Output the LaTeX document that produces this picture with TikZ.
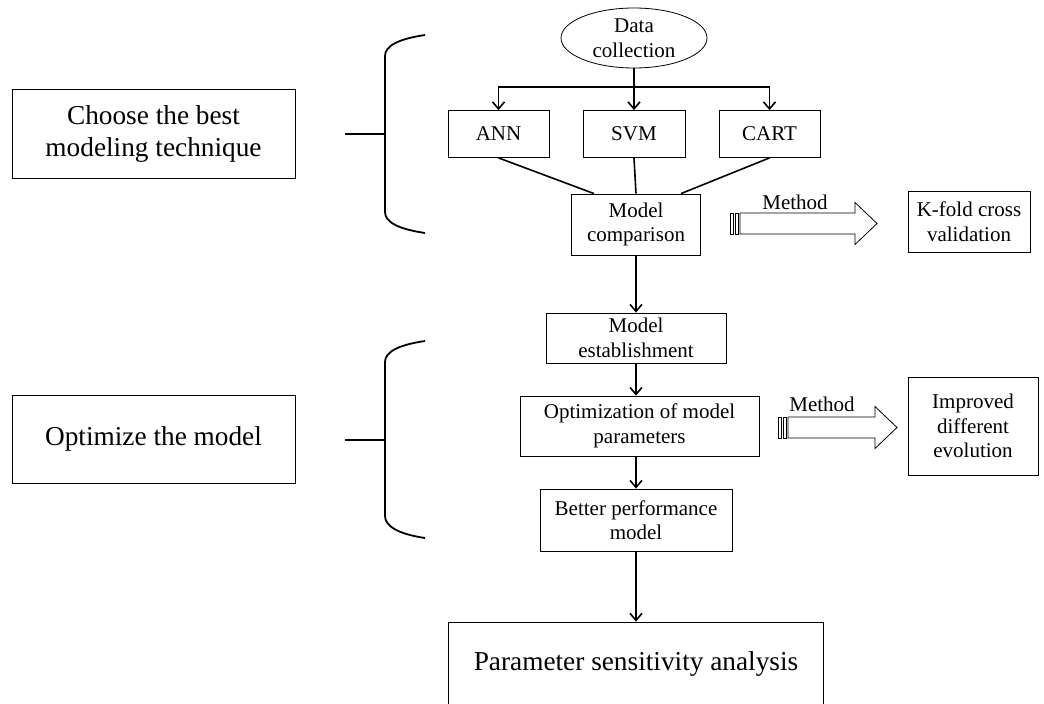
\documentclass[tikz,border=0pt]{standalone}
\usepackage{fontspec}
\setmainfont{Liberation Serif}
\usetikzlibrary{arrows.meta,shapes.geometric}
\tikzset{
  chartbox/.style={draw=black,line width=0.8pt,rectangle,align=center,inner sep=0pt,font=\fontsize{21}{24.5}\selectfont},
  chartbig/.style={chartbox,font=\fontsize{27.3}{32}\selectfont},
  chartlabel/.style={inner sep=0pt,font=\fontsize{21}{24.5}\selectfont},
  chartline/.style={line width=1.6pt},
  chartarrow/.style={chartline,-{Straight Barb[length=7pt,width=12pt,line width=1.6pt]}},
  chartbrace/.style={line width=1.8pt},
  charthollow/.style={draw=black,line width=0.8pt,fill=white}
}

\begin{document}
\begin{tikzpicture}[x=1pt,y=-1pt]
  \useasboundingbox (0,0) rectangle (1044,704);
  \clip (0,0) rectangle (1044,704);
  % left side stages
  \node[chartbig,minimum width=283,minimum height=89] (choose) at (153.5,133.5) {Choose the best\\modeling technique};
  \node[chartbig,minimum width=283,minimum height=88] (optimize) at (153.5,439) {Optimize the model};
  \draw[chartbrace] (425,35) .. controls (398,39) and (385,46) .. (385,56) -- (385,212) .. controls (385,222) and (398,229) .. (425,233);
  \draw[chartbrace] (345,134) -- (385,134);
  \draw[chartbrace] (425,341) .. controls (398,345) and (385,352) .. (385,362) -- (385,516) .. controls (385,526) and (398,534) .. (425,538);
  \draw[chartbrace] (345,440) -- (385,440);
  % main flow
  \node[chartbox,ellipse,minimum width=146,minimum height=60] (data) at (634,38) {Data\\collection};
  \node[chartbox,minimum width=101,minimum height=47] (ann) at (498.5,134) {ANN};
  \node[chartbox,minimum width=102,minimum height=47] (svm) at (634,134) {SVM};
  \node[chartbox,minimum width=101,minimum height=47] (cart) at (769.5,134) {CART};
  \node[chartbox,minimum width=129,minimum height=61] (comp) at (636,224.5) {Model\\comparison};
  \node[chartbox,minimum width=180,minimum height=50] (estab) at (636,338) {Model\\establishment};
  \node[chartbox,minimum width=239,minimum height=60] (opt) at (639.5,426) {Optimization of model\\parameters};
  \node[chartbox,minimum width=192,minimum height=62] (better) at (636,520) {Better performance\\model};
  \node[chartbig,minimum width=375,minimum height=84] (param) at (636,664) {Parameter sensitivity analysis};
  \coordinate (split) at (634,87);
  \draw[chartline] (data.south) -- (split);
  \draw[chartarrow] (split) -- (svm.north);
  \draw[chartarrow] (split) -| (ann.north);
  \draw[chartarrow] (split) -| (cart.north);
  \draw[chartline] (ann.south) -- ([xshift=-42pt]comp.north);
  \draw[chartline] (svm.south) -- (comp.north);
  \draw[chartline] (cart.south) -- ([xshift=45pt]comp.north);
  \draw[chartarrow] (comp.south) -- (estab.north);
  \draw[chartarrow] (estab.south) -- (estab.south |- opt.north);
  \draw[chartarrow] (better.north |- opt.south) -- (better.north);
  \draw[chartarrow] (better.south) -- (param.north);
  % methods
  \node[chartbox,minimum width=122,minimum height=61] (kfold) at (969,221.5) {K-fold cross\\validation};
  \node[chartbox,minimum width=130,minimum height=98] (improved) at (973,426) {Improved\\different\\evolution};
  \foreach \xt/\xh/\xp/\yc in {730/855/877/223.5, 778/875/897/427.5} {
    \draw[charthollow] (\xt+10,\yc-10.5) -- (\xh,\yc-10.5) -- (\xh,\yc-21) -- (\xp,\yc) -- (\xh,\yc+21) -- (\xh,\yc+10.5) -- (\xt+10,\yc+10.5) -- cycle;
    \draw[charthollow] (\xt,\yc-10.5) rectangle (\xt+3,\yc+10.5);
    \draw[charthollow] (\xt+5,\yc-10.5) rectangle (\xt+8,\yc+10.5);
  }
  \node[chartlabel] (method1) at (795,202) {Method};
  \node[chartlabel] (method2) at (822,404) {Method};
\end{tikzpicture}
\end{document}
